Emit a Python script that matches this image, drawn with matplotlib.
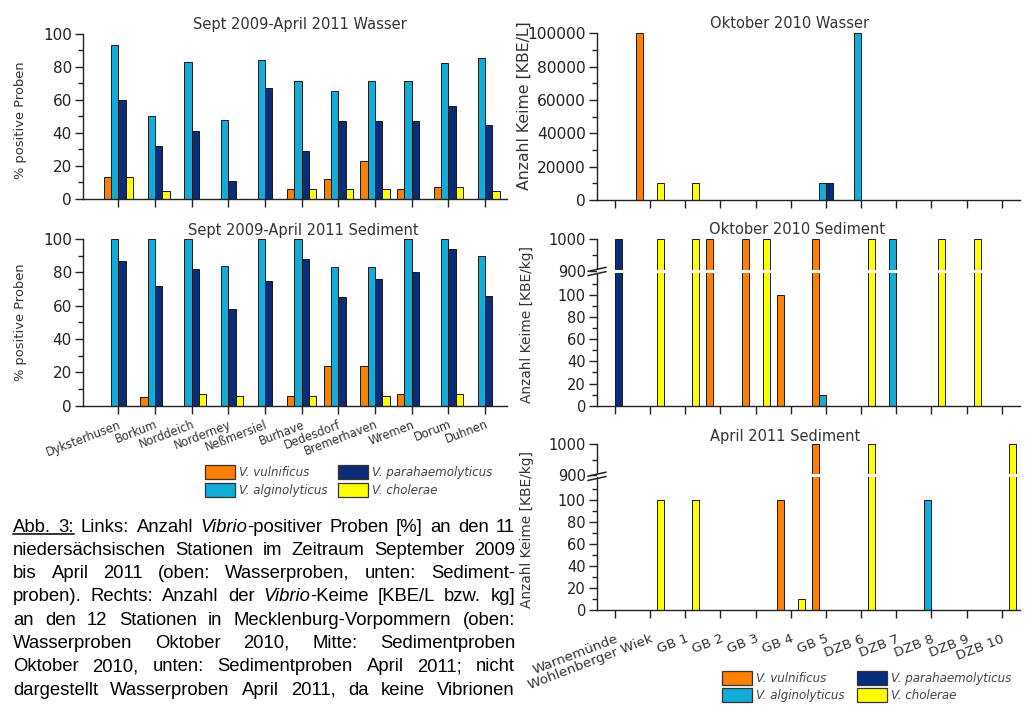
import numpy as np
import matplotlib.pyplot as plt
from matplotlib.lines import Line2D
from matplotlib.patches import Rectangle
from matplotlib.ticker import MultipleLocator, FixedLocator

plt.rcParams['font.family'] = ['DejaVu Sans']

W, H = 1025, 707

species = ['V. vulnificus', 'V. alginolyticus', 'V. parahaemolyticus', 'V. cholerae']
colors = ['#ff8000', '#12acd8', '#0b2c78', '#ffff00']

# Niedersachsen, % positive Proben (Sept 2009 - April 2011)
stat_ns = ['Dyksterhusen', 'Borkum', 'Norddeich', 'Norderney', 'Neßmersiel', 'Burhave',
           'Dedesdorf', 'Bremerhaven', 'Wremen', 'Dorum', 'Duhnen']
ns_w_vul = [13, 0, 0, 0, 0, 6, 12, 23, 6, 7, 0]
ns_w_alg = [93, 50, 83, 48, 84, 71, 65, 71, 71, 82, 85]
ns_w_par = [60, 32, 41, 11, 67, 29, 47, 47, 47, 56, 45]
ns_w_cho = [13, 5, 0, 0, 0, 6, 6, 6, 0, 7, 5]

ns_s_vul = [0, 5, 0, 0, 0, 6, 24, 24, 7, 0, 0]
ns_s_alg = [100, 100, 100, 84, 100, 100, 83, 83, 100, 100, 90]
ns_s_par = [87, 72, 82, 58, 75, 88, 65, 76, 80, 94, 66]
ns_s_cho = [0, 0, 7, 6, 0, 6, 0, 6, 0, 7, 0]

# Mecklenburg-Vorpommern, Anzahl Keime
stat_mv = ['Warnemünde', 'Wohlenberger Wiek', 'GB 1', 'GB 2', 'GB 3', 'GB 4', 'GB 5',
           'DZB 6', 'DZB 7', 'DZB 8', 'DZB 9', 'DZB 10']
w10_vul = [0, 100000, 0, 0, 0, 0, 0, 0, 0, 0, 0, 0]
w10_alg = [0, 0, 0, 0, 0, 0, 10000, 100000, 0, 0, 0, 0]
w10_par = [0, 0, 0, 0, 0, 0, 10000, 0, 0, 0, 0, 0]
w10_cho = [0, 10000, 10000, 0, 0, 0, 0, 0, 0, 0, 0, 0]

s10_vul = [0, 0, 0, 1000, 1000, 100, 1000, 0, 0, 0, 0, 0]
s10_alg = [0, 0, 0, 0, 0, 0, 10, 0, 1000, 0, 0, 0]
s10_par = [1000, 0, 0, 0, 0, 0, 0, 0, 0, 0, 0, 0]
s10_cho = [0, 1000, 1000, 0, 1000, 0, 0, 1000, 0, 1000, 1000, 0]

s11_vul = [0, 0, 0, 0, 0, 100, 1000, 0, 0, 0, 0, 0]
s11_alg = [0, 0, 0, 0, 0, 0, 0, 0, 0, 100, 0, 0]
s11_par = [0, 0, 0, 0, 0, 0, 0, 0, 0, 0, 0, 0]
s11_cho = [0, 100, 100, 0, 0, 10, 0, 1000, 0, 0, 0, 1000]

# broken axis: 0-120 linear, gap, 900-1000 compressed
brk_in = [-1000, 0, 120, 900, 1000, 100000]
brk_out = [-1000, 0, 120, 122, 150.3, 150.3 + 99000 * 0.283]


def fwd(y):
    return np.interp(y, brk_in, brk_out)


def inv(y):
    return np.interp(y, brk_out, brk_in)


fig = plt.figure(figsize=(W / 100, H / 100), dpi=100)


def px_axes(x0, y0, x1, y1):
    return fig.add_axes([x0 / W, 1 - y1 / H, (x1 - x0) / W, (y1 - y0) / H])


def style(ax, size):
    for s in ['top', 'right']:
        ax.spines[s].set_visible(False)
    for s in ['left', 'bottom']:
        ax.spines[s].set_linewidth(1.0)
        ax.spines[s].set_color('#222222')
    ax.tick_params(which='major', direction='out', length=6, width=1, color='#222222',
                   labelsize=size, labelcolor='#222222', pad=2)
    ax.tick_params(which='minor', direction='out', length=3.5, width=1, color='#222222')
    ax.tick_params(axis='x', which='minor', bottom=False)


def draw_bars(ax, series):
    x = np.arange(len(series[0]))
    w = 0.2
    for k, (vals, col) in enumerate(zip(series, colors)):
        ax.bar(x + (k - 1.5) * w, vals, width=w, color=col, edgecolor='#1a1a1a',
               linewidth=0.7, clip_on=False, zorder=2)
    ax.set_xticks(x)


def pct_axes(ax, series):
    draw_bars(ax, series)
    ax.set_xlim(-0.963, 10.6)
    ax.set_ylim(0, 100)
    ax.yaxis.set_major_locator(MultipleLocator(20))
    ax.yaxis.set_minor_locator(MultipleLocator(10))
    style(ax, 11)


def broken_axes(ax, series):
    ax.set_yscale('function', functions=(fwd, inv))
    draw_bars(ax, series)
    ax.set_xlim(-0.512, 11.52)
    ax.set_ylim(0, 1000)
    ax.yaxis.set_major_locator(FixedLocator([0, 20, 40, 60, 80, 100, 900, 1000]))
    ax.yaxis.set_minor_locator(FixedLocator([10, 30, 50, 70, 90, 110, 950]))
    style(ax, 10.5)
    ax.axhline(900, color='white', lw=2.2, zorder=4)
    yf = fwd(900) / fwd(1000)
    dx, dy = 0.021, 0.017
    for off in (-0.013, 0.013):
        ax.add_line(Line2D([-dx, dx], [yf + off - dy, yf + off + dy * 0.4],
                           transform=ax.transAxes, color='#222222', lw=1.1,
                           clip_on=False, zorder=6))


# left: Niedersachsen
ax1 = px_axes(83, 33.5, 507, 199)
pct_axes(ax1, [ns_w_vul, ns_w_alg, ns_w_par, ns_w_cho])
ax1.set_xticklabels([])

ax2 = px_axes(83, 239, 507, 405.5)
pct_axes(ax2, [ns_s_vul, ns_s_alg, ns_s_par, ns_s_cho])
ax2.set_xticklabels(stat_ns, rotation=21, ha='right', rotation_mode='anchor',
                    fontsize=8.3, color='#333333')
ax2.tick_params(axis='x', pad=3)

# right: Mecklenburg-Vorpommern
ax3 = px_axes(597, 33.3, 1020, 200)
draw_bars(ax3, [w10_vul, w10_alg, w10_par, w10_cho])
ax3.set_xlim(-0.512, 11.52)
ax3.set_ylim(0, 100000)
ax3.yaxis.set_major_locator(MultipleLocator(20000))
ax3.yaxis.set_minor_locator(MultipleLocator(10000))
style(ax3, 11.2)
ax3.set_xticklabels([])

ax4 = px_axes(597, 239.3, 1020, 405.7)
broken_axes(ax4, [s10_vul, s10_alg, s10_par, s10_cho])
ax4.set_xticklabels([])

ax5 = px_axes(597, 444.3, 1020, 610)
broken_axes(ax5, [s11_vul, s11_alg, s11_par, s11_cho])
ax5.set_xticklabels(stat_mv, rotation=21, ha='right', rotation_mode='anchor',
                    fontsize=9.7, color='#333333')
ax5.tick_params(axis='x', pad=10)


def ftext(x, y, s, **kw):
    return fig.text(x / W, 1 - y / H, s, **kw)


# titles
tkw = dict(ha='center', va='center', fontsize=10.5, color='#333333')
ftext(300, 25, 'Sept 2009-April 2011 Wasser', **tkw)
ftext(303, 230, 'Sept 2009-April 2011 Sediment', **tkw)
ftext(790, 24, 'Oktober 2010 Wasser', **tkw)
ftext(797, 230, 'Oktober 2010 Sediment', **tkw)
ftext(785, 436, 'April 2011 Sediment', **tkw)

# y labels
ykw = dict(ha='center', va='center', rotation=90, color='#333333')
ftext(21, 120, '% positive Proben', fontsize=9.4, **ykw)
ftext(21, 322, '% positive Proben', fontsize=9.4, **ykw)
ftext(524, 106, 'Anzahl Keime [KBE/L]', fontsize=11.3, **ykw)
ftext(527, 324, 'Anzahl Keime [KBE/kg]', fontsize=9.9, **ykw)
ftext(527, 530, 'Anzahl Keime [KBE/kg]', fontsize=9.9, **ykw)


# legends
def legend_at(x_cols, y_rows, pw):
    pos = [(0, 0), (0, 1), (1, 0), (1, 1)]
    for (c, r), name, col in zip(pos, species, colors):
        x0 = x_cols[c]
        y0 = y_rows[r]
        fig.patches.append(Rectangle((x0 / W, 1 - (y0 + 14) / H), pw / W, 14 / H,
                                     transform=fig.transFigure, facecolor=col,
                                     edgecolor='#333333', linewidth=0.9))
        ftext(x0 + pw + 4, y0 + 7.5, name, ha='left', va='center', fontsize=8.6,
              style='italic', color='#444444')


legend_at([205, 338], [465, 483], 30)
legend_at([722, 857], [671, 688], 30)

# caption (justified)
cap_lines = [
    '_Abb. 3:_ Links: Anzahl *Vibrio*-positiver Proben [%] an den 11',
    'niedersächsischen Stationen im Zeitraum September 2009',
    'bis April 2011 (oben: Wasserproben, unten: Sediment-',
    'proben). Rechts: Anzahl der *Vibrio*-Keime [KBE/L bzw. kg]',
    'an den 12 Stationen in Mecklenburg-Vorpommern (oben:',
    'Wasserproben Oktober 2010, Mitte: Sedimentproben',
    'Oktober 2010, unten: Sedimentproben April 2011; nicht',
    'dargestellt Wasserproben April 2011, da keine Vibrionen',
    'nachweisbar waren).',
]
cap_x0, cap_x1 = 13, 515
cap_y0, cap_dy = 531.5, 23.3
cap_font = dict(family='Liberation Sans', fontsize=13.3, color='black')

renderer = fig.canvas.get_renderer()

for i, line in enumerate(cap_lines):
    words = []
    italic = under = False
    for w in line.split(' '):
        segs = []
        buf = ''
        for ch in w:
            if ch in '*_':
                if buf:
                    segs.append((buf, italic, under))
                    buf = ''
                if ch == '*':
                    italic = not italic
                else:
                    under = not under
            else:
                buf += ch
        if buf:
            segs.append((buf, italic, under))
        words.append(segs)
    yb = cap_y0 + i * cap_dy
    if i == len(cap_lines) - 1:
        yb += 3.5
    texts = []
    widths = []
    for segs in words:
        wt = []
        ww = 0
        for s, it, un in segs:
            t = ftext(0, yb, s, ha='left', va='baseline',
                      style='italic' if it else 'normal', **cap_font)
            bw = t.get_window_extent(renderer).width
            wt.append((t, bw, un))
            ww += bw
        texts.append(wt)
        widths.append(ww)
    t1 = ftext(0, yb, 'a a', **cap_font)
    t2 = ftext(0, yb, 'aa', **cap_font)
    space = t1.get_window_extent(renderer).width - t2.get_window_extent(renderer).width
    t1.remove()
    t2.remove()
    if i < len(cap_lines) - 1:
        gap = (cap_x1 - cap_x0 - sum(widths)) / (len(words) - 1)
    else:
        gap = space
    x = cap_x0
    ul = []
    for wt in texts:
        for t, bw, un in wt:
            t.set_x(x / W)
            if un:
                ul.append((x, x + bw))
            x += bw
        x += gap
    if ul:
        fig.lines.append(Line2D([ul[0][0] / W, ul[-1][1] / W],
                                [1 - (yb + 2.5) / H] * 2, transform=fig.transFigure,
                                color='black', lw=1.1))

fig.savefig('out.png', dpi=100)
